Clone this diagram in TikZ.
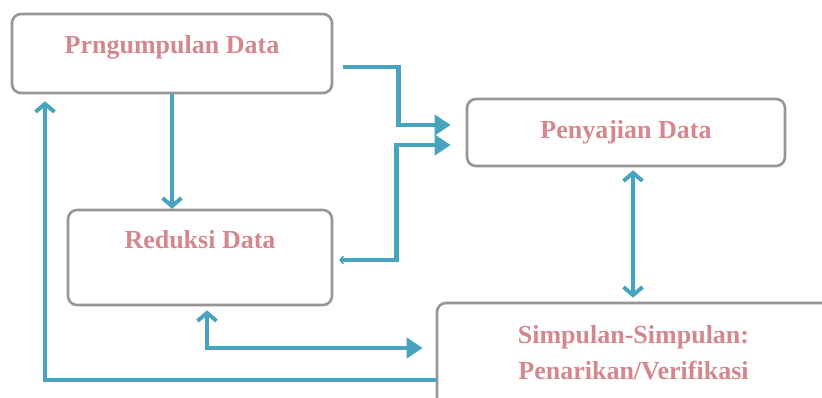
\documentclass[tikz,border=0pt]{standalone}
\usepackage{fontspec}
\setmainfont{Liberation Serif}
\usepackage{tikz}
\usetikzlibrary{positioning,arrows.meta}
\definecolor{garis}{RGB}{72,163,190}
\definecolor{tepi}{RGB}{150,150,150}
\definecolor{tulisan}{RGB}{212,136,142}

\begin{document}
\begin{tikzpicture}[x=1pt,y=-1pt,
    kotak/.style={draw=tepi,line width=2.6pt,rounded corners=9pt,fill=white},
    judul/.style={text=tulisan,font=\bfseries\fontsize{26}{36}\selectfont,align=center},
    panah/.style={draw=garis,line width=4.8pt},
    ujung/.style={-{Straight Barb[length=8pt,width=19pt,line width=4pt]}},
    ujungbesar/.style={-{Triangle[length=16pt,width=20pt]}}]
      \useasboundingbox (0,0) rectangle (822,397);
      \clip (0,0) rectangle (822,397);
      \fill[white] (0,0) rectangle (822,397);
      \node[kotak,minimum width=320,minimum height=79](pengumpulan) at (172,53.5){};
      \node[judul] at ([yshift=6.5pt]pengumpulan.center){Prngumpulan Data};
      \node[kotak,minimum width=318,minimum height=67](penyajian) at (626,132.5){};
      \node[judul] at (penyajian.center){Penyajian Data};
      \node[kotak,minimum width=264,minimum height=95](reduksi) at (200,257.5){};
      \node[judul] at ([yshift=17.5pt]reduksi.center){Reduksi Data};
      \node[kotak,minimum width=403,minimum height=107](simpulan) at (638.5,356.5){};
      \node[judul] at ([xshift=-5pt,yshift=4pt]simpulan.center){Simpulan-Simpulan:\\Penarikan/Verifikasi};

      \draw[panah,ujung] (pengumpulan.south) -- (pengumpulan.south |- reduksi.north);
      \draw[panah,ujungbesar] ([xshift=10pt,yshift=-13.5pt]pengumpulan.east) -- ++(55,0)
        |- ([xshift=-15pt,yshift=7.5pt]penyajian.west);
      \draw[panah,{Straight Barb[length=3pt,width=8pt,line width=1.5pt]}-{Triangle[length=16pt,width=20pt]}]
        ([xshift=6pt,yshift=-2.5pt]reduksi.east) -- ++(57,0)
        |- ([xshift=-15pt,yshift=-12.5pt]penyajian.west);
      \draw[panah,{Straight Barb[length=8pt,width=19pt,line width=4pt]}-{Straight Barb[length=8pt,width=19pt,line width=4pt]}]
        ([xshift=7pt,yshift=-3pt]penyajian.south) -- ([xshift=7pt,yshift=4pt]penyajian.south |- simpulan.north);
      \draw[panah,{Straight Barb[length=8pt,width=19pt,line width=4pt]}-{Triangle[length=16pt,width=20pt]}]
        ([xshift=7pt,yshift=-4pt]reduksi.south) |- ([xshift=-13pt,yshift=8.5pt]simpulan.west);
      \draw[panah,ujung] ([yshift=-23.5pt]simpulan.west) -| ([xshift=-127pt,yshift=-7pt]pengumpulan.south);
\end{tikzpicture}
\end{document}
